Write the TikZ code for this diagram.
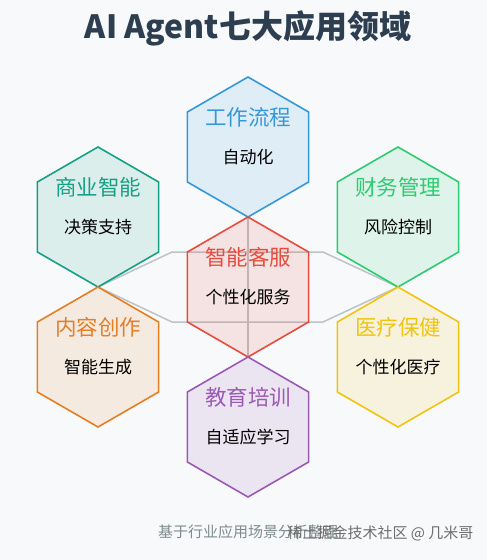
\documentclass[tikz,border=0pt]{standalone}
\usepackage{fontspec}
\setmainfont{Noto Sans CJK SC}
\usetikzlibrary{shapes.geometric}
\definecolor{bgcol}{HTML}{F7F9FB}
\definecolor{titlecol}{HTML}{2C3E50}
\definecolor{flowblue}{HTML}{3498DB}
\definecolor{servred}{HTML}{E74C3C}
\definecolor{bizteal}{HTML}{16A085}
\definecolor{fingreen}{HTML}{2ECC71}
\definecolor{artorange}{HTML}{E67E22}
\definecolor{medyellow}{HTML}{F1C40F}
\definecolor{edupurple}{HTML}{9B59B6}
\definecolor{linkgray}{HTML}{BDC3C7}
\definecolor{footgray}{HTML}{7F8C8D}
\definecolor{markgray}{HTML}{6E6E6E}
\begin{document}
\begin{tikzpicture}[x=1pt,y=-1pt,
  hexbox/.style={regular polygon, regular polygon sides=6, shape border rotate=30,
    minimum size=140pt, inner sep=0pt, line width=1.6pt, draw=#1, fill=#1, fill opacity=0.12},
  hextitle/.style={text=#1, font=\fontsize{21.5}{24}\selectfont},
  hexsub/.style={text=black, font=\fontsize{17}{20}\selectfont},
  link/.style={draw=linkgray, line width=1.5pt}]
\fill[bgcol] (0,0) rectangle (487,560);
\useasboundingbox (0,0) rectangle (487,560);
\node[font=\fontsize{32}{38}\selectfont\bfseries, text=titlecol] (head) at (248,28) {AI Agent七大应用领域};
% gray links behind the hexagons
\coordinate (le) at (98,287);
\coordinate (lu) at (172,252);
\coordinate (ru) at (323,252);
\coordinate (re) at (398,287);
\coordinate (rd) at (323,322);
\coordinate (ld) at (172,322);
\coordinate (cu) at (248,217);
\coordinate (cd) at (248,357);
\draw[link] (le)--(lu)--(ru)--(re)--(rd)--(ld)--cycle;
\draw[link] (cu)--(cd);
% hexagons
\foreach \name/\pos/\col/\head/\sub in {
  work/{248,147}/flowblue/工作流程/自动化,
  biz/{98,217}/bizteal/商业智能/决策支持,
  fin/{398,217}/fingreen/财务管理/风险控制,
  serv/{248,287}/servred/智能客服/个性化服务,
  art/{98,357}/artorange/内容创作/智能生成,
  med/{398,357}/medyellow/医疗保健/个性化医疗,
  edu/{248,427}/edupurple/教育培训/自适应学习}{
  \node[hexbox=\col] (\name) at (\pos) {};
  \node[hextitle=\col] (\name-head) at ([yshift=30pt]\name.center) {\head};
  \node[hexsub] (\name-sub) at ([yshift=-10pt]\name.center) {\sub};
}
% footer
\node[font=\fontsize{15}{18}\selectfont, text=footgray] (note) at (248,532) {基于行业应用场景分析整理};
\node[anchor=west, font=\fontsize{15}{18}\selectfont, text=markgray] (mark) at (284,533) {稀土掘金技术社区 @ 几米哥};
\end{tikzpicture}
\end{document}
